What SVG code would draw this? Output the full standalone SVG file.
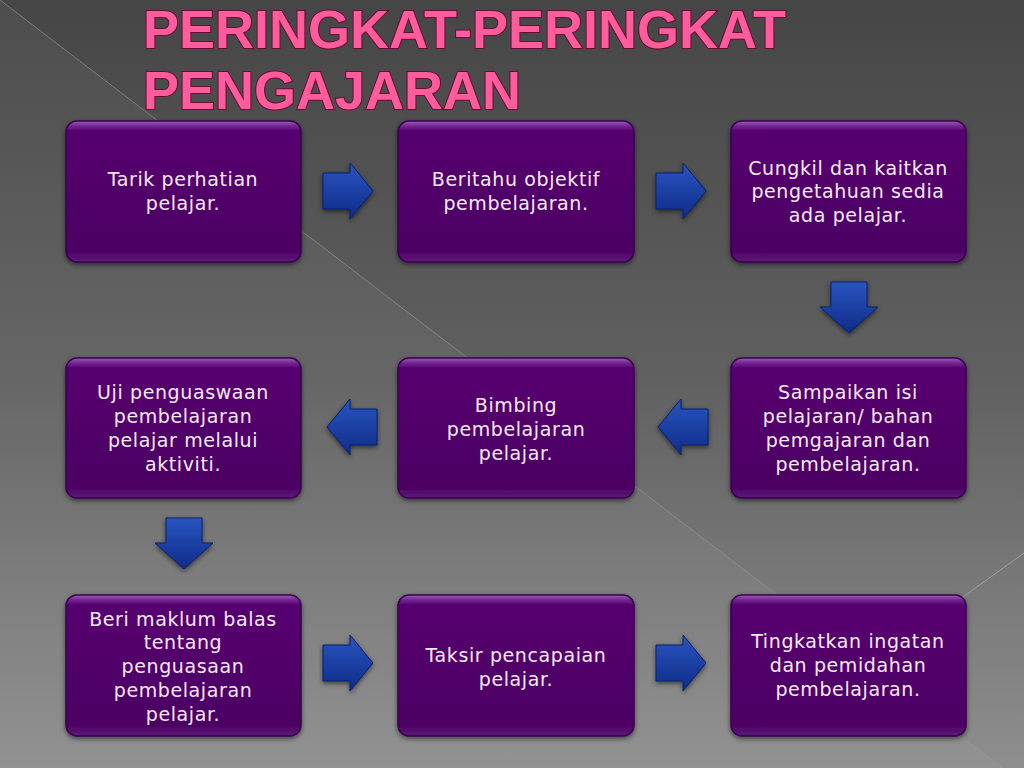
<svg xmlns="http://www.w3.org/2000/svg" width="1024" height="768" viewBox="0 0 1024 768">
<defs>
<linearGradient id="bg" x1="0" y1="0" x2="0" y2="1">
<stop offset="0" stop-color="#464646"/>
<stop offset="0.5" stop-color="#616161"/>
<stop offset="1" stop-color="#8e8e8e"/>
</linearGradient>
<linearGradient id="box" x1="0" y1="0" x2="0" y2="1">
<stop offset="0" stop-color="#a060b8"/>
<stop offset="0.03" stop-color="#7a2e98"/>
<stop offset="0.07" stop-color="#560070"/>
<stop offset="0.92" stop-color="#4c0062"/>
<stop offset="1" stop-color="#5e1a7a"/>
</linearGradient>
<linearGradient id="arr" x1="0" y1="0" x2="0" y2="1">
<stop offset="0" stop-color="#2a55c0"/>
<stop offset="1" stop-color="#0e2c88"/>
</linearGradient>
<filter id="sh" x="-10%" y="-10%" width="120%" height="130%">
<feDropShadow dx="0" dy="2" stdDeviation="2.5" flood-color="#000" flood-opacity="0.55"/>
</filter>
<path id="ar" d="M-25,-18 L2,-18 L2,-28 L25,0 L2,28 L2,18 L-25,18 Z"/>
<path id="ad" d="M-18,-26 L18,-26 L18,-1 L29,-1 L0,25 L-29,-1 L-18,-1 Z"/>
</defs>
<style>
.box{fill:url(#box);stroke:#3a0050;stroke-width:1.5;filter:url(#sh)}
.t{font-family:"DejaVu Sans","Liberation Sans",sans-serif;font-size:19px;letter-spacing:0.6px;fill:#f4eaf6;text-anchor:middle}
.ttl{font-family:"Liberation Sans",Arial,sans-serif;font-weight:bold;font-size:54px;fill:#ff5c9c;stroke:#6a0a38;stroke-width:2;paint-order:stroke}
.a{fill:url(#arr);stroke:#0a2070;stroke-width:1;filter:url(#sh)}
</style>
<rect width="1024" height="768" fill="url(#bg)"/>
<polygon points="0,0 1003,768 0,768" fill="#ffffff" opacity="0.04"/>
<line x1="0" y1="0" x2="1003" y2="768" stroke="#9a9a9a" stroke-width="1" opacity="0.6"/>
<line x1="963" y1="597" x2="1024" y2="553" stroke="#b0b0b0" stroke-width="1" opacity="0.7"/>
<text class="ttl" x="143" y="48">PERINGKAT-PERINGKAT</text>
<text class="ttl" x="143" y="109">PENGAJARAN</text>

<g id="n1"><rect class="box" x="66" y="121" width="235" height="141" rx="11"/>
<text class="t" x="183" y="186">Tarik perhatian</text><text class="t" x="183" y="210">pelajar.</text></g>
<g id="n2"><rect class="box" x="398" y="121" width="236" height="141" rx="11"/>
<text class="t" x="516" y="186">Beritahu objektif</text><text class="t" x="516" y="210">pembelajaran.</text></g>
<g id="n3"><rect class="box" x="731" y="121" width="235" height="141" rx="11"/>
<text class="t" x="848" y="175">Cungkil dan kaitkan</text><text class="t" x="848" y="198">pengetahuan sedia</text><text class="t" x="848" y="222">ada pelajar.</text></g>

<g id="n4"><rect class="box" x="66" y="358" width="235" height="140" rx="11"/>
<text class="t" x="183" y="399">Uji penguaswaan</text><text class="t" x="183" y="423">pembelajaran</text><text class="t" x="183" y="447">pelajar melalui</text><text class="t" x="183" y="471">aktiviti.</text></g>
<g id="n5"><rect class="box" x="398" y="358" width="236" height="140" rx="11"/>
<text class="t" x="516" y="412">Bimbing</text><text class="t" x="516" y="436">pembelajaran</text><text class="t" x="516" y="460">pelajar.</text></g>
<g id="n6"><rect class="box" x="731" y="358" width="235" height="140" rx="11"/>
<text class="t" x="848" y="399">Sampaikan isi</text><text class="t" x="848" y="423">pelajaran/ bahan</text><text class="t" x="848" y="447">pemgajaran dan</text><text class="t" x="848" y="471">pembelajaran.</text></g>

<g id="n7"><rect class="box" x="66" y="595" width="235" height="141" rx="11"/>
<text class="t" x="183" y="626">Beri maklum balas</text><text class="t" x="183" y="649">tentang</text><text class="t" x="183" y="673">penguasaan</text><text class="t" x="183" y="697">pembelajaran</text><text class="t" x="183" y="721">pelajar.</text></g>
<g id="n8"><rect class="box" x="398" y="595" width="236" height="141" rx="11"/>
<text class="t" x="516" y="662">Taksir pencapaian</text><text class="t" x="516" y="686">pelajar.</text></g>
<g id="n9"><rect class="box" x="731" y="595" width="235" height="141" rx="11"/>
<text class="t" x="848" y="648">Tingkatkan ingatan</text><text class="t" x="848" y="672">dan pemidahan</text><text class="t" x="848" y="696">pembelajaran.</text></g>

<g id="connectors">
<use href="#ar" class="a" x="348" y="191"/>
<use href="#ar" class="a" x="681" y="191"/>
<use href="#ad" class="a" x="849" y="308"/>
<use href="#ar" class="a" transform="translate(683,427) scale(-1,1)"/>
<use href="#ar" class="a" transform="translate(352,427) scale(-1,1)"/>
<use href="#ad" class="a" x="184" y="544"/>
<use href="#ar" class="a" x="348" y="663"/>
<use href="#ar" class="a" x="681" y="663"/>
</g>
</svg>
